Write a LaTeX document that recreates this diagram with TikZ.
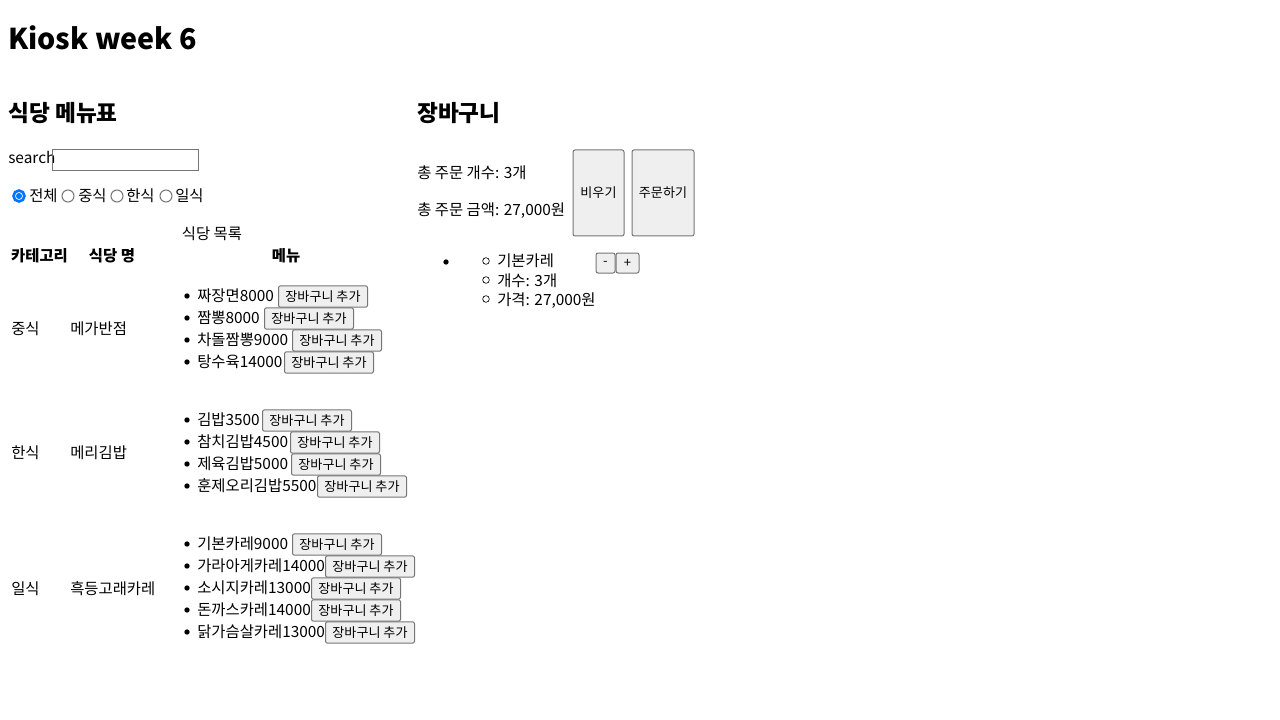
\documentclass[tikz,border=0pt]{standalone}
\usepackage{fontspec}
\setmainfont{Noto Sans CJK KR}
\definecolor{bord}{HTML}{767676}
\definecolor{btnfill}{HTML}{EFEFEF}
\definecolor{radioblue}{HTML}{0075FF}
\begin{document}
\begin{tikzpicture}[x=0.75pt,y=-0.75pt,
  txt/.style={anchor=base west,inner sep=0pt,font=\fontsize{11.55pt}{14pt}\selectfont},
  ctxt/.style={anchor=base,inner sep=0pt,font=\fontsize{11.55pt}{14pt}\selectfont},
  hdr/.style={anchor=base,inner sep=0pt,font=\fontsize{11.55pt}{14pt}\selectfont\bfseries},
  htwo/.style={anchor=base west,inner sep=0pt,font=\fontsize{17pt}{20pt}\selectfont\bfseries},
  btn/.style={draw=bord,fill=btnfill,rounded corners=1.5pt,line width=0.75pt,inner sep=0pt,
    font=\fontsize{9.8pt}{12pt}\selectfont},
  addbtn/.style={btn,anchor=west,minimum width=66.75pt,minimum height=16pt},
  radio/.style={circle,draw=bord,line width=0.75pt,minimum size=9pt,inner sep=0pt},
  radioon/.style={circle,draw=radioblue,fill=white,line width=2pt,minimum size=8.2pt,inner sep=0pt},
  dotb/.style={circle,fill=black,minimum size=4pt,inner sep=0pt},
  doto/.style={circle,draw=black,line width=0.5pt,minimum size=5pt,inner sep=0pt}]
\useasboundingbox (0,0) rectangle (1280,720);
\fill[white] (0,0) rectangle (1280,720);

% titles
\node[anchor=base west,inner sep=0pt,font=\fontsize{21.5pt}{26pt}\selectfont\bfseries] (title) at (8,50) {Kiosk week 6};
\node[htwo] (menuh) at (8,122) {식당 메뉴표};
\node[htwo] (carth) at (417,122) {장바구니};

% search
\node[txt] (search) at (8,164) {search};
\node[draw=bord,line width=0.75pt,minimum width=109.5pt,minimum height=15.75pt,inner sep=0pt,anchor=west] (sbox) at (52,160.5) {};

% radios
\node[radioon] (r1) at (19,196) {};
\fill[radioblue] (r1.center) circle (3);
\node[txt] (rt1) at (29,202) {전체};
\node[radio] (r2) at (68,196) {};
\node[txt] (rt2) at (78,202) {중식};
\node[radio] (r3) at (117,196) {};
\node[txt] (rt3) at (126,202) {한식};
\node[radio] (r4) at (166,196) {};
\node[txt] (rt4) at (175,202) {일식};

% table caption and headers
\node[ctxt] (cap) at (212,239) {식당 목록};
\node[hdr] (h1) at (39.5,261) {카테고리};
\node[hdr] (h2) at (112,261) {식당 명};
\node[hdr] (h3) at (286,261) {메뉴};

% rows
\node[txt] (c1) at (11,334) {중식};
\node[txt] (n1) at (70,334) {메가반점};
\node[txt] (c2) at (11,458) {한식};
\node[txt] (n2) at (70,458) {메리김밥};
\node[txt] (c3) at (11,594) {일식};
\node[txt] (n3) at (70,594) {흑등고래카레};

% menu items
\foreach \t/\y/\b [count=\i] in {
  짜장면8000/295/278, 짬뽕8000/317/264, 차돌짬뽕9000/339/292, 탕수육14000/361/284,
  김밥3500/419/262, 참치김밥4500/441/290, 제육김밥5000/463/291, 훈제오리김밥5500/485/317,
  기본카레9000/543/292, 가라아게카레14000/565/325, 소시지카레13000/587/311,
  돈까스카레14000/609/311, 닭가슴살카레13000/631/325}
{
  \node[dotb] (d\i) at (187,\y+1) {};
  \node[txt] (m\i) at (197,\y+6) {\t};
  \node[addbtn] (b\i) at (\b,\y+1.5) {장바구니 추가};
}

% cart
\node[txt] (cnt) at (417,179) {총 주문 개수: 3개};
\node[txt] (sum) at (417,215) {총 주문 금액: 27,000원};
\node[btn,minimum width=38.25pt,minimum height=64.5pt] (clear) at (598.5,193) {비우기};
\node[btn,minimum width=46.5pt,minimum height=64.5pt] (order) at (663,193) {주문하기};

\node[dotb] (cb) at (446,262) {};
\node[doto] (o1) at (486,261) {};
\node[doto] (o2) at (486,280) {};
\node[doto] (o3) at (486,299) {};
\node[txt] (i1) at (497,266) {기본카레};
\node[txt] (i2) at (497,286) {개수: 3개};
\node[txt] (i3) at (497,305) {가격: 27,000원};
\node[btn,minimum width=14.25pt,minimum height=15pt] (minus) at (605.5,263) {-};
\node[btn,minimum width=17.25pt,minimum height=15pt] (plus) at (627.5,263) {+};
\end{tikzpicture}
\end{document}
